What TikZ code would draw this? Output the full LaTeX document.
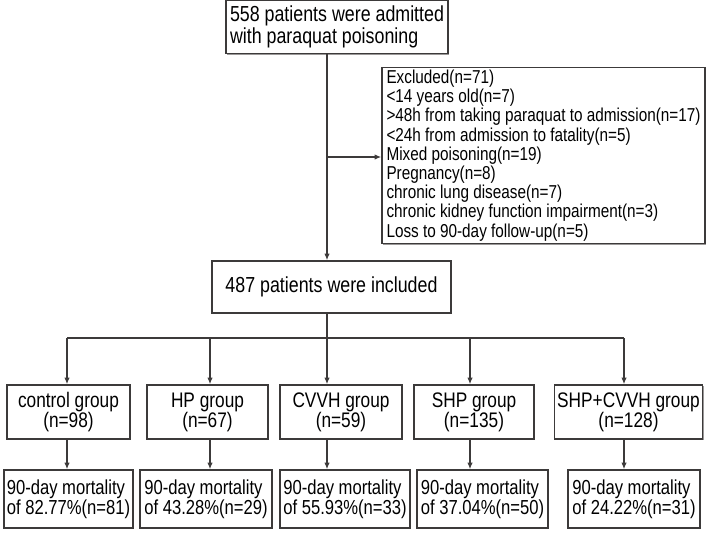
\documentclass[tikz,border=0pt]{standalone}
\usepackage{fontspec}
\usetikzlibrary{arrows.meta, positioning, shadows}
\usepackage{xcolor}
\newfontfamily\narrowsans[FakeStretch=0.82]{Liberation Sans}
\definecolor{boxline}{HTML}{3C3A3A}
\definecolor{boxshade}{HTML}{9A9898}

\begin{document}
\begin{tikzpicture}[
    x=0.75pt, y=-0.75pt,
    box/.style={draw=boxline, fill=white, line width=1pt, inner sep=2pt, align=#1,
        drop shadow={shadow xshift=1pt, shadow yshift=-1pt, fill=boxshade, opacity=1}},
    box/.default=center,
    bigtxt/.style={font=\narrowsans\fontsize{16.3}{16.3}\selectfont},
    listtxt/.style={font=\narrowsans\fontsize{14}{14.4}\selectfont},
    grptxt/.style={font=\narrowsans\fontsize{15.8}{15}\selectfont, minimum height=40.5pt},
    morttxt/.style={font=\narrowsans\fontsize{15.2}{15.2}\selectfont, minimum height=43.5pt},
    arr/.style={-{Latex[length=5pt, width=4pt]}, line width=1pt, color=boxline},
    conn/.style={line width=1pt, color=boxline},
]
\useasboundingbox (0,0) rectangle (709,532);

\node[box=left, bigtxt, minimum width=166.5pt, minimum height=39.75pt] (admit) at (337,27)
    {558 patients were admitted\\with paraquat poisoning};
\node[box=left, listtxt, minimum width=242.25pt, minimum height=131.25pt] (excl) at (543.5,155.5)
    {Excluded(n=71)\\
     <14 years old(n=7)\\
     >48h from taking paraquat to admission(n=17)\\
     <24h from admission to fatality(n=5)\\
     Mixed poisoning(n=19)\\
     Pregnancy(n=8)\\
     chronic lung disease(n=7)\\
     chronic kidney function impairment(n=3)\\
     Loss to 90-day follow-up(n=5)};
\node[box, bigtxt, minimum width=179.25pt, minimum height=39pt] (incl) at (331.5,287)
    {487 patients were included};

% treatment groups
\node[box, grptxt, minimum width=92.25pt] (g1) at (68.5,412) {control group\\(n=98)};
\node[box, grptxt, minimum width=90.75pt] (g2) at (207.5,412) {HP group\\(n=67)};
\node[box, grptxt, minimum width=91.5pt]  (g3) at (341,412) {CVVH group\\(n=59)};
\node[box, grptxt, minimum width=90pt]    (g4) at (474,412) {SHP group\\(n=135)};
\node[box, grptxt, minimum width=110.25pt] (g5) at (628.5,412) {SHP+CVVH group\\(n=128)};

% outcomes
\node[box=left, morttxt, minimum width=92.25pt] (m1) at (68.5,499) {90-day mortality\\of 82.77\%(n=81)};
\node[box=left, morttxt, minimum width=99pt]    (m2) at (206,499) {90-day mortality\\of 43.28\%(n=29)};
\node[box=left, morttxt, minimum width=97.5pt]  (m3) at (345,499) {90-day mortality\\of 55.93\%(n=33)};
\node[box=left, morttxt, minimum width=98.25pt] (m4) at (482.5,499) {90-day mortality\\of 37.04\%(n=50)};
\node[box=left, morttxt, minimum width=99pt]    (m5) at (634,499) {90-day mortality\\of 24.22\%(n=31)};

\coordinate (split) at (327,157);
\coordinate (bus) at (327,338);
\coordinate (col1) at (67,338);
\coordinate (col2) at (210,338);
\coordinate (col3) at (327,338);
\coordinate (col4) at (470,338);
\coordinate (col5) at (624,338);

\draw[arr] (admit.south -| split) -- (split |- incl.north);
\draw[arr] (split) -- (split -| excl.west);
\draw[conn] (incl.south -| bus) -- (bus);
\draw[conn] (col1) -- (col5);
\foreach \i in {1,...,5} {
    \draw[arr] (col\i) -- (col\i |- g\i.north);
    \draw[arr] (col\i |- g\i.south) -- (col\i |- m\i.north);
}
\end{tikzpicture}
\end{document}
